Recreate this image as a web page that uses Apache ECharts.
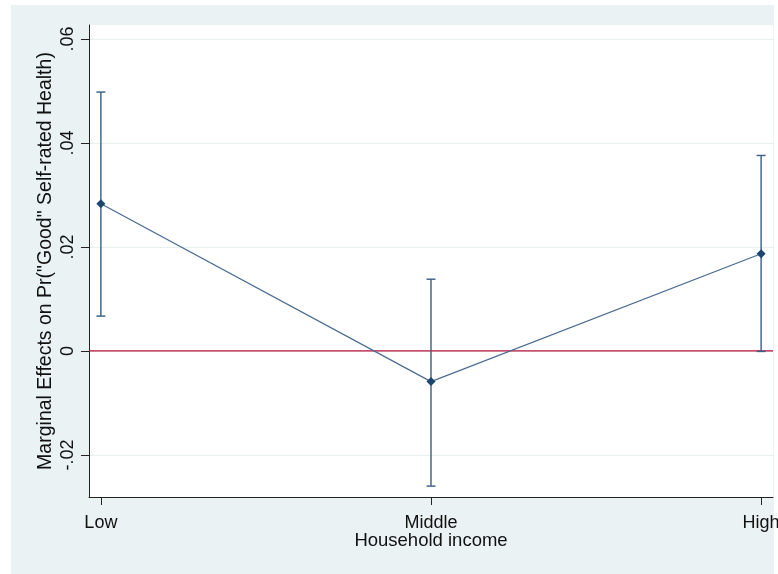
<!DOCTYPE html>
<html>
<head>
<meta charset="utf-8">
<script src="https://cdn.jsdelivr.net/npm/echarts@6/dist/echarts.min.js"></script>
<style>
html,body{margin:0;padding:0;background:#fff;}
#chart{width:778px;height:574px;}
</style>
</head>
<body>
<div id="chart"></div>
<script>
const categories = ['Low', 'Middle', 'High'];
const categoryPositions = [1, 2, 3];
const estimates = [0.0283, -0.0059, 0.0187];
const ciLower = [0.0067, -0.0260, -0.0001];
const ciUpper = [0.0498, 0.0138, 0.0376];
const yTicks = [-0.02, 0, 0.02, 0.04, 0.06];
const yTickLabels = ['-.02', '0', '.02', '.04', '.06'];
const xRange = [0.964, 3.036];
const zeroLine = [[xRange[0], 0], [xRange[1], 0]];

const chart = echarts.init(document.getElementById('chart'));
const FONT = 'Liberation Sans, Arial, sans-serif';

const option = {
  backgroundColor: '#ffffff',
  animation: false,
  graphic: [{
    type: 'rect', z: -10, silent: true,
    shape: {x: 11, y: 5, width: 763, height: 575},
    style: {fill: '#eaf2f3'}
  }],
  grid: {
    left: 89, right: 5, top: 25, bottom: 77,
    outerBoundsMode: 'none',
    containLabel: false,
    show: true, backgroundColor: '#ffffff', borderWidth: 0
  },
  xAxis: {
    type: 'value',
    min: xRange[0], max: xRange[1],
    name: 'Household income',
    nameLocation: 'middle',
    nameGap: 34,
    nameMoveOverlap: false,
    nameTextStyle: {fontFamily: FONT, fontSize: 18.5, color: '#111'},
    axisLine: {show: true, onZero: false, lineStyle: {color: '#222', width: 1}},
    axisTick: {show: true, length: 8, customValues: categoryPositions, lineStyle: {color: '#222'}},
    axisLabel: {
      customValues: categoryPositions,
      margin: 17,
      fontFamily: FONT, fontSize: 18, color: '#111',
      formatter: v => categories[Math.round(v) - 1] || ''
    },
    splitLine: {show: false}
  },
  yAxis: {
    type: 'value',
    min: -0.0281, max: 0.0627,
    name: 'Marginal Effects on Pr("Good" Self-rated Health)',
    nameLocation: 'middle',
    nameRotate: 90,
    nameGap: 33,
    nameMoveOverlap: false,
    nameTextStyle: {fontFamily: FONT, fontSize: 19.5, color: '#111'},
    axisLine: {show: true, onZero: false, lineStyle: {color: '#222', width: 1}},
    axisTick: {show: true, length: 8, customValues: yTicks, lineStyle: {color: '#222'}},
    axisLabel: {
      customValues: yTicks,
      rotate: 90,
      margin: 12,
      fontFamily: FONT, fontSize: 18, color: '#111',
      formatter: v => {
        const i = yTicks.findIndex(t => Math.abs(t - v) < 1e-9);
        return i >= 0 ? yTickLabels[i] : '';
      }
    },
    splitLine: {show: true, lineStyle: {color: '#e8f0f1', width: 1}}
  },
  series: [
    {
      type: 'line',
      z: 1,
      silent: true,
      data: zeroLine,
      symbol: 'none',
      lineStyle: {color: '#b8103a', width: 1.2}
    },
    {
      type: 'custom',
      z: 2,
      data: categoryPositions.map((x, i) => [x, ciLower[i], ciUpper[i]]),
      renderItem: (params, api) => {
        const x = api.value(0);
        const lo = api.coord([x, api.value(1)]);
        const hi = api.coord([x, api.value(2)]);
        const cap = 4.5;
        const st = {stroke: '#3a5c85', lineWidth: 1.4};
        return {
          type: 'group',
          children: [
            {type: 'line', shape: {x1: lo[0], y1: lo[1], x2: hi[0], y2: hi[1]}, style: st},
            {type: 'line', shape: {x1: lo[0] - cap, y1: lo[1], x2: lo[0] + cap, y2: lo[1]}, style: st},
            {type: 'line', shape: {x1: hi[0] - cap, y1: hi[1], x2: hi[0] + cap, y2: hi[1]}, style: st}
          ]
        };
      }
    },
    {
      type: 'line',
      z: 3,
      data: categoryPositions.map((x, i) => [x, estimates[i]]),
      symbol: 'diamond',
      symbolSize: 9,
      showAllSymbol: true,
      itemStyle: {color: '#1a476f'},
      lineStyle: {color: '#4a6b92', width: 1.2}
    }
  ]
};
chart.setOption(option);
</script>
</body>
</html>
